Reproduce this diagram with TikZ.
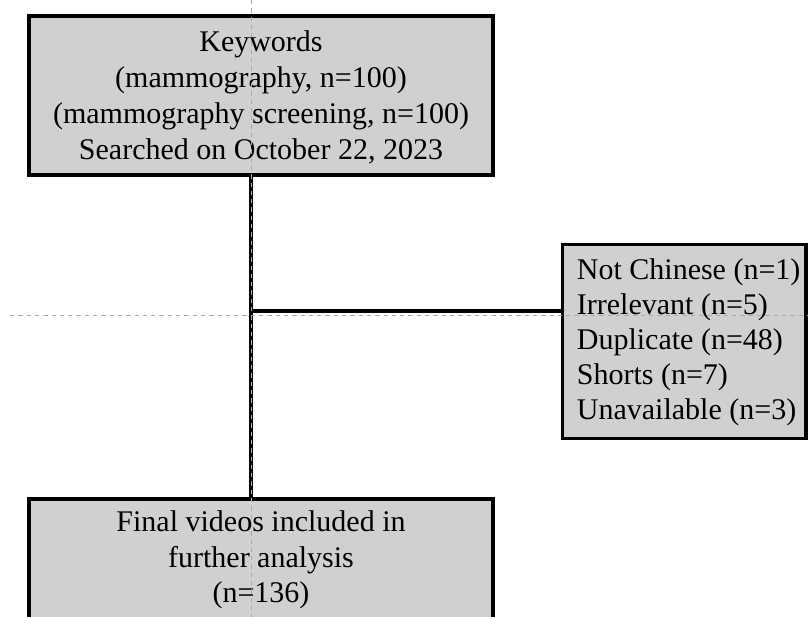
\documentclass[tikz,border=0pt]{standalone}
\usepackage{fontspec}
\setmainfont{Liberation Serif}
\definecolor{boxgray}{RGB}{208,208,208}
\definecolor{guidegray}{RGB}{170,170,170}
\begin{document}
\begin{tikzpicture}[x=1pt,y=-1pt,
  box/.style={draw=black, line width=3.5pt, fill=boxgray, inner sep=0pt},
  conn/.style={draw=black, line width=3.5pt},
  guide/.style={draw=guidegray, line width=0.9pt, dash pattern=on 4.3pt off 4pt},
  txt/.style={font=\fontsize{30}{35.8}\selectfont, inner sep=0pt}]
\useasboundingbox (0,0) rectangle (808,617);
\clip (0,0) rectangle (808,617);
% boxes
\node[box, minimum width=464pt, minimum height=159pt] (kw) at (261,95.5) {};
\node[box, minimum width=243.5pt, minimum height=194pt] (excl) at (684.25,341.5) {};
\node[box, minimum width=464pt, minimum height=141pt] (fin) at (261,569.5) {};
% texts
\node[txt, align=center] (kwtxt) at (261,97.4)
  {Keywords\\(mammography, n=100)\\(mammography screening, n=100)\\Searched on October 22, 2023};
\node[txt, align=left, anchor=west, font=\fontsize{30}{35}\selectfont] (excltxt) at (576.7,342.4)
  {Not Chinese (n=1)\\Irrelevant (n=5)\\Duplicate (n=48)\\Shorts (n=7)\\Unavailable (n=3)};
\node[txt, align=center] (fintxt) at (261,559.8)
  {Final videos included in\\further analysis\\(n=136)};
% connectors
\coordinate (j) at (250.5,311);
\draw[conn, line width=4pt] (kw.south -| j) -- (fin.north -| j);
\draw[conn, line width=3.3pt] (j) -- (excl.west |- j);
% guides
\coordinate (gtop) at (251,0);
\coordinate (gbot) at (251,617);
\coordinate (gleft) at (10,315);
\coordinate (gright) at (808,315);
\draw[guide] (gtop) -- (gbot);
\draw[guide] (gleft) -- (gright);
\end{tikzpicture}
\end{document}
